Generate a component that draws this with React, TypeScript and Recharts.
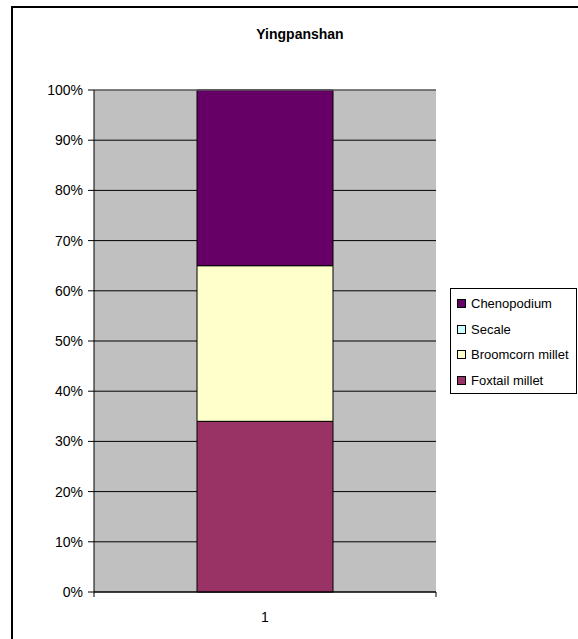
import React from 'react';
import { BarChart, Bar, XAxis, YAxis, CartesianGrid, ReferenceLine, Legend } from 'recharts';

// categories and series (percent of total)
const sites = ['1'];
const foxtailMillet = [34];
const broomcornMillet = [31];
const secale = [0];
const chenopodium = [35];
const percentTicks = [0, 10, 20, 30, 40, 50, 60, 70, 80, 90, 100];

const FONT = '"Liberation Sans", Arial, sans-serif';
const X_TICK_GAP = 20;

const series = [
  { key: 'Foxtail millet', values: foxtailMillet, color: '#993366' },
  { key: 'Broomcorn millet', values: broomcornMillet, color: '#FFFFCC' },
  { key: 'Secale', values: secale, color: '#CCFFFF' },
  { key: 'Chenopodium', values: chenopodium, color: '#660066' },
];

const data = sites.map((site, i) => {
  const row: any = { site };
  series.forEach(s => { row[s.key] = s.values[i]; });
  return row;
});

// Excel-style category tick: marks at the band edges, label in the middle
const CategoryTick = (props: any) => {
  const { x, y, payload } = props;
  const half = payload.offset || 0;
  const axisY = y - X_TICK_GAP;
  return (
    <g>
      <line x1={x - half} x2={x - half} y1={axisY} y2={axisY + 5} stroke="#000" />
      <line x1={x + half} x2={x + half} y1={axisY} y2={axisY + 5} stroke="#000" />
      <text x={x} y={y} dy="0.71em" textAnchor="middle" fill="#000" fontSize={14} fontFamily={FONT}>
        {payload.value}
      </text>
    </g>
  );
};

const LegendBox = () => (
  <div
    style={{
      border: '1px solid #000',
      background: '#fff',
      padding: '2px 0 0 6px',
      fontFamily: FONT,
      fontSize: 13,
      color: '#000',
      boxSizing: 'border-box',
      width: 127,
    }}
  >
    {[...series].reverse().map(s => (
      <div key={s.key} style={{ display: 'flex', alignItems: 'center', height: 25.5, whiteSpace: 'nowrap' }}>
        <span
          style={{
            display: 'inline-block',
            width: 7,
            height: 7,
            border: '1px solid #000',
            background: s.color,
            marginRight: 5,
          }}
        />
        {s.key}
      </div>
    ))}
  </div>
);

const App: React.FC = () => {
  return (
    <div>
      <div
        style={{
          position: 'absolute',
          left: 11,
          top: 6,
          width: 567,
          height: 633,
          borderLeft: '2px solid #000',
          borderTop: '2px solid #000',
          boxSizing: 'border-box',
        }}
      />
      <div
        style={{
          position: 'absolute',
          left: 0,
          top: 26,
          width: 600,
          textAlign: 'center',
          fontFamily: FONT,
          fontWeight: 'bold',
          fontSize: 14,
        }}
      >
        Yingpanshan
      </div>
      <div style={{ position: 'absolute', left: 0, top: 0 }}>
        <BarChart
          width={578}
          height={639}
          data={data}
          margin={{ top: 90, right: 142, left: 34, bottom: 17 }}
          style={{ fontFamily: FONT }}
        >
          <CartesianGrid vertical={false} stroke="#000" fill="#C0C0C0" fillOpacity={1} />
          <XAxis
            dataKey="site"
            height={30}
            tickLine={false}
            tickSize={0}
            tickMargin={X_TICK_GAP}
            axisLine={{ stroke: '#000' }}
            tick={<CategoryTick />}
          />
          <YAxis
            width={60}
            domain={[0, 100]}
            ticks={percentTicks}
            tickFormatter={v => `${v}%`}
            axisLine={{ stroke: '#000' }}
            tickLine={{ stroke: '#000' }}
            tickSize={6}
            tickMargin={5}
            tick={{ fill: '#000', fontSize: 14 }}
          />
          <YAxis
            yAxisId="frame"
            orientation="right"
            width={0}
            domain={[0, 100]}
            axisLine={{ stroke: '#808080' }}
            tick={false}
            tickLine={false}
          />
          <ReferenceLine y={100} stroke="#808080" />
          {series.map(s => (
            <Bar
              key={s.key}
              dataKey={s.key}
              stackId="a"
              fill={s.color}
              stroke="#000"
              strokeWidth={1}
              barSize={136}
              isAnimationActive={false}
            />
          ))}
          <Legend
            layout="vertical"
            align="center"
            verticalAlign="middle"
            content={<LegendBox />}
            wrapperStyle={{ position: 'absolute', left: 450, top: 288, width: 127 }}
          />
        </BarChart>
      </div>
    </div>
  );
};

export default App;
